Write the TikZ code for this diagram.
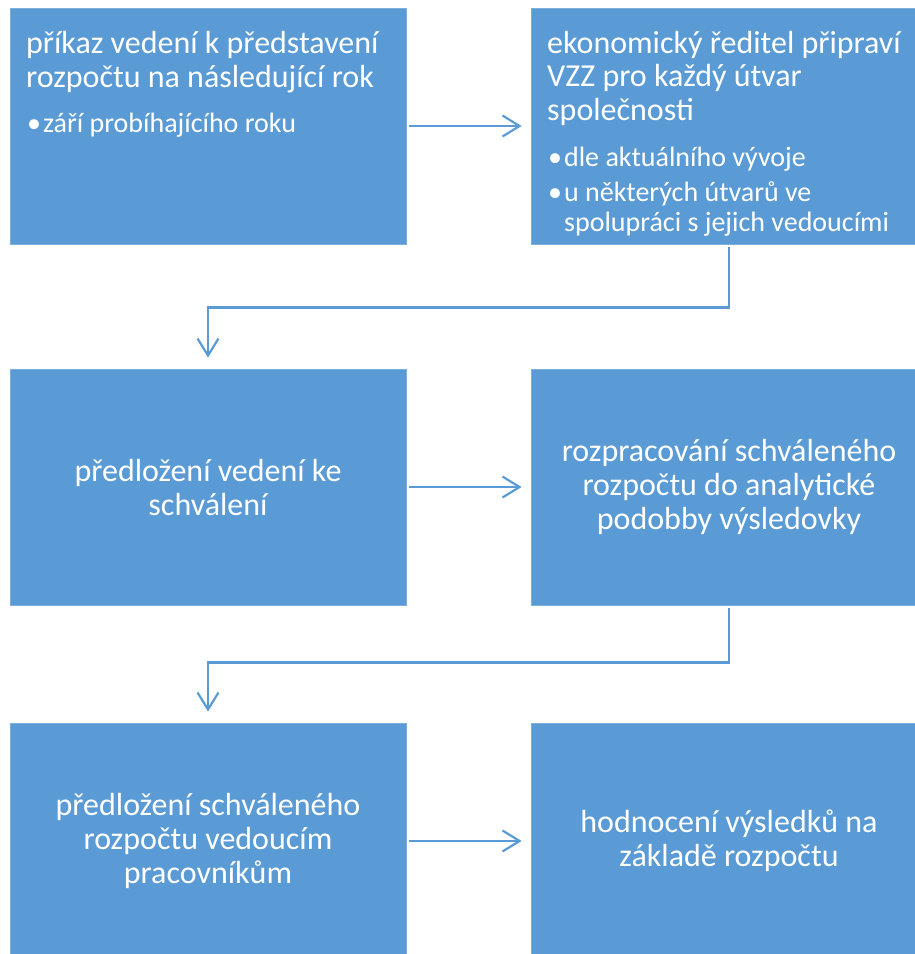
\documentclass[tikz,border=0pt]{standalone}
\usepackage{fontspec}
\setmainfont{Carlito}
\usetikzlibrary{arrows.meta}
\definecolor{boxblue}{HTML}{5B9BD5}
\newcommand{\blt}{•\hspace{2pt}}
\begin{document}
\begin{tikzpicture}[x=1pt,y=-1pt,
  box/.style={fill=boxblue, draw=boxblue!80!white, line width=0.8pt, minimum width=396pt, minimum height=236pt, inner sep=0pt, text=white, align=center, font=\fontsize{32}{34}\selectfont},
  big/.style={text=white, inner sep=0pt, anchor=base west, font=\fontsize{32}{34}\selectfont},
  small/.style={text=white, inner sep=0pt, anchor=base west, font=\fontsize{28}{30}\selectfont},
  arr/.style={draw=boxblue, line width=2.2pt, -{Straight Barb[length=17pt,width=21pt,line width=2.2pt]}},
]
\useasboundingbox (0,0) rectangle (915,954);
\node[box] (b1) at (208,126) {};
\node[box] (b2) at (729,126) {};
\node[box] (b3) at (208,487) {předložení vedení ke\\schválení};
\node[box] (b4) at (729,487) {rozpracování schváleného\\rozpočtu do analytické\\podobby výsledovky};
\node[box] (b5) at (208,841) {předložení schváleného\\rozpočtu vedoucím\\pracovníkům};
\node[box] (b6) at (729,841) {hodnocení výsledků na\\základě rozpočtu};

\node[big] (t1a) at (26,53) {příkaz vedení k představení};
\node[big] (t1b) at (26,87) {rozpočtu na následující rok};
\node[small] (s1) at (27,132) {\blt září probíhajícího roku};
\node[big] (t2a) at (547,53) {ekonomický ředitel připraví};
\node[big] (t2b) at (547,86) {VZZ pro každý útvar};
\node[big] (t2c) at (547,120) {společnosti};
\node[small] (s2a) at (548,166) {\blt dle aktuálního vývoje};
\node[small] (s2b) at (548,201) {\blt u některých útvarů ve};
\node[small] (s2c) at (548,231) {\hphantom{\blt}spolupráci s jejich vedoucími};

\draw[arr, shorten <=3pt, shorten >=9pt] (b1.east) -- (b2.west);
\draw[arr, shorten <=3pt, shorten >=9pt] (b3.east) -- (b4.west);
\draw[arr, shorten <=3pt, shorten >=9pt] (b5.east) -- (b6.west);
\draw[arr, shorten <=3pt, shorten >=11pt] (b2.south) -- ++(0,63) -| (b3.north);
\draw[arr, shorten <=3pt, shorten >=11pt] (b4.south) -- ++(0,57) -| (b5.north);
\end{tikzpicture}
\end{document}
